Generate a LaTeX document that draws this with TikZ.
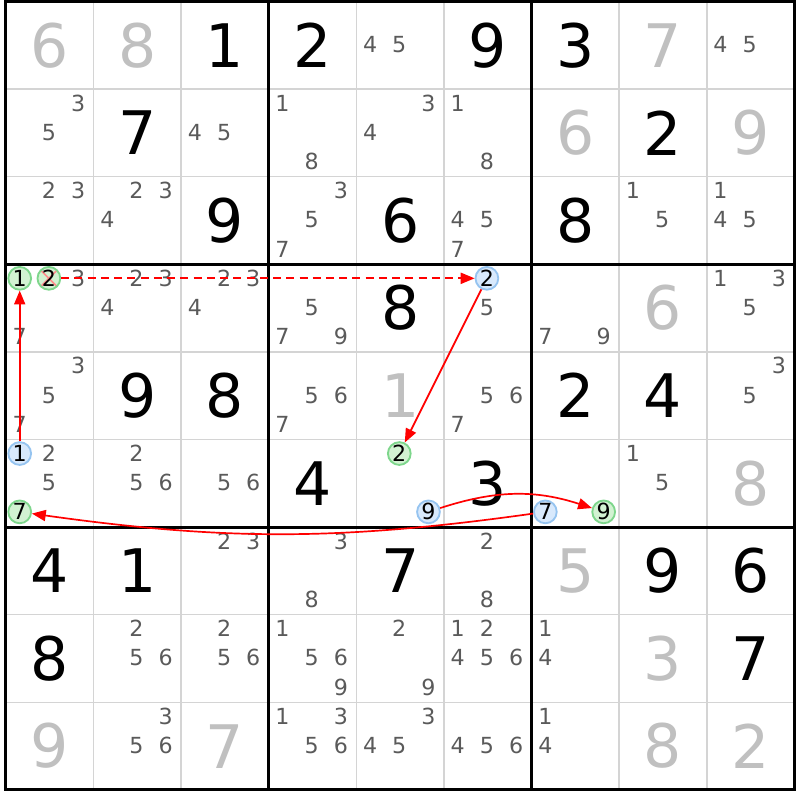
\documentclass[tikz,border=0pt]{standalone}
\usepackage{fontspec}
\setmainfont{DejaVu Sans}
\usepackage{xcolor}
\usetikzlibrary{arrows.meta}

\definecolor{solvedgray}{HTML}{C0C0C0}
\definecolor{candgray}{HTML}{5A5A5A}
\definecolor{thingrid}{HTML}{D4D4D4}
\definecolor{onfill}{HTML}{D2F2D2}
\definecolor{ondraw}{HTML}{7ED68C}
\definecolor{offfill}{HTML}{D8E9FC}
\definecolor{offdraw}{HTML}{96C4F0}

\tikzset{
  givendig/.style={font=\fontsize{19.5pt}{19.5pt}\selectfont, inner sep=0pt},
  solveddig/.style={givendig, text=solvedgray},
  canddig/.style={font=\fontsize{7.2pt}{7.2pt}\selectfont, text=candgray, inner sep=0pt},
  oncand/.style={circle, inner sep=0pt, minimum size=0.26cm, draw=ondraw, fill=onfill,
    line width=0.6pt, font=\fontsize{7.2pt}{7.2pt}\selectfont},
  offcand/.style={oncand, draw=offdraw, fill=offfill},
  struck/.style={path picture={\draw[red!45, line width=0.5pt]
    (path picture bounding box.north west) -- (path picture bounding box.south east)
    (path picture bounding box.north east) -- (path picture bounding box.south west);}},
  link/.style={red, line width=0.55pt, -{Triangle[length=4.5pt,width=3.6pt]}},
  weaklink/.style={link, dash pattern=on 2.6pt off 1.7pt},
}

% cell (column, row) -> big digit at the centre
\newcommand{\givennum}[3]{\node[givendig] at (#1-0.5,0.5-#2) {#3};}
\newcommand{\solvednum}[3]{\node[solveddig] at (#1-0.5,0.5-#2) {#3};}
% pencil marks of one cell
\newcommand{\cands}[3]{%
  \foreach \d in {#3}{%
    \pgfmathtruncatemacro{\candcol}{mod(\d-1,3)}%
    \pgfmathtruncatemacro{\candrow}{(\d-1)/3}%
    \node[canddig] at ({#1-1+0.157+0.333*\candcol},{-(#2-1+0.16+0.333*\candrow)}) {\d};
  }}
% circled pencil mark: style, name, column, row, digit
\newcommand{\ringcand}[5]{%
  \pgfmathtruncatemacro{\candcol}{mod(#5-1,3)}%
  \pgfmathtruncatemacro{\candrow}{(#5-1)/3}%
  \node[#1] (#2) at ({#3-1+0.157+0.333*\candcol},{-(#4-1+0.16+0.333*\candrow)}) {#5};}

\begin{document}
\begin{tikzpicture}
  \useasboundingbox (-0.068,0.017) rectangle (9.064,-9.115);

  % grid
  \foreach \i in {1,2,4,5,7,8} {
    \draw[thingrid, line width=0.5pt] (\i,0) -- (\i,-9);
    \draw[thingrid, line width=0.5pt] (0,-\i) -- (9,-\i);
  }
  \foreach \i in {3,6} {
    \draw[line width=1pt] (\i,0) -- (\i,-9);
    \draw[line width=1pt] (0,-\i) -- (9,-\i);
  }
  \draw[line width=1pt] (0,0) rectangle (9,-9);

  % row 1
  \solvednum{1}{1}{6} \solvednum{2}{1}{8} \givennum{3}{1}{1}
  \givennum{4}{1}{2} \cands{5}{1}{4,5} \givennum{6}{1}{9}
  \givennum{7}{1}{3} \solvednum{8}{1}{7} \cands{9}{1}{4,5}
  % row 2
  \cands{1}{2}{3,5} \givennum{2}{2}{7} \cands{3}{2}{4,5}
  \cands{4}{2}{1,8} \cands{5}{2}{3,4} \cands{6}{2}{1,8}
  \solvednum{7}{2}{6} \givennum{8}{2}{2} \solvednum{9}{2}{9}
  % row 3
  \cands{1}{3}{2,3} \cands{2}{3}{2,3,4} \givennum{3}{3}{9}
  \cands{4}{3}{3,5,7} \givennum{5}{3}{6} \cands{6}{3}{4,5,7}
  \givennum{7}{3}{8} \cands{8}{3}{1,5} \cands{9}{3}{1,4,5}
  % row 4
  \cands{1}{4}{3,7} \cands{2}{4}{2,3,4} \cands{3}{4}{2,3,4}
  \cands{4}{4}{5,7,9} \givennum{5}{4}{8} \cands{6}{4}{5}
  \cands{7}{4}{7,9} \solvednum{8}{4}{6} \cands{9}{4}{1,3,5}
  % row 5
  \cands{1}{5}{3,5,7} \givennum{2}{5}{9} \givennum{3}{5}{8}
  \cands{4}{5}{5,6,7} \solvednum{5}{5}{1} \cands{6}{5}{5,6,7}
  \givennum{7}{5}{2} \givennum{8}{5}{4} \cands{9}{5}{3,5}
  % row 6
  \cands{1}{6}{2,5} \cands{2}{6}{2,5,6} \cands{3}{6}{5,6}
  \givennum{4}{6}{4} \givennum{6}{6}{3}
  \cands{8}{6}{1,5} \solvednum{9}{6}{8}
  % row 7
  \givennum{1}{7}{4} \givennum{2}{7}{1} \cands{3}{7}{2,3}
  \cands{4}{7}{3,8} \givennum{5}{7}{7} \cands{6}{7}{2,8}
  \solvednum{7}{7}{5} \givennum{8}{7}{9} \givennum{9}{7}{6}
  % row 8
  \givennum{1}{8}{8} \cands{2}{8}{2,5,6} \cands{3}{8}{2,5,6}
  \cands{4}{8}{1,5,6,9} \cands{5}{8}{2,9} \cands{6}{8}{1,2,4,5,6}
  \cands{7}{8}{1,4} \solvednum{8}{8}{3} \givennum{9}{8}{7}
  % row 9
  \solvednum{1}{9}{9} \cands{2}{9}{3,5,6} \solvednum{3}{9}{7}
  \cands{4}{9}{1,3,5,6} \cands{5}{9}{3,4,5} \cands{6}{9}{4,5,6}
  \cands{7}{9}{1,4} \solvednum{8}{9}{8} \solvednum{9}{9}{2}

  % chain
  \ringcand{oncand}{r4c1d1}{1}{4}{1}
  \ringcand{oncand, struck}{r4c1d2}{1}{4}{2}
  \ringcand{offcand}{r4c6d2}{6}{4}{2}
  \ringcand{oncand}{r6c5d2}{5}{6}{2}
  \ringcand{offcand}{r6c5d9}{5}{6}{9}
  \ringcand{oncand}{r6c7d9}{7}{6}{9}
  \ringcand{offcand}{r6c7d7}{7}{6}{7}
  \ringcand{oncand}{r6c1d7}{1}{6}{7}
  \ringcand{offcand}{r6c1d1}{1}{6}{1}

  \draw[link] (r6c1d1) -- (r4c1d1);
  \draw[weaklink] (r4c1d2) -- (r4c6d2);
  \draw[link] (r4c6d2) -- (r6c5d2);
  \draw[link] (r6c5d9) to[bend left=18] (r6c7d9);
  \draw[link] (r6c7d7) to[bend left=8] (r6c1d7);
\end{tikzpicture}
\end{document}
